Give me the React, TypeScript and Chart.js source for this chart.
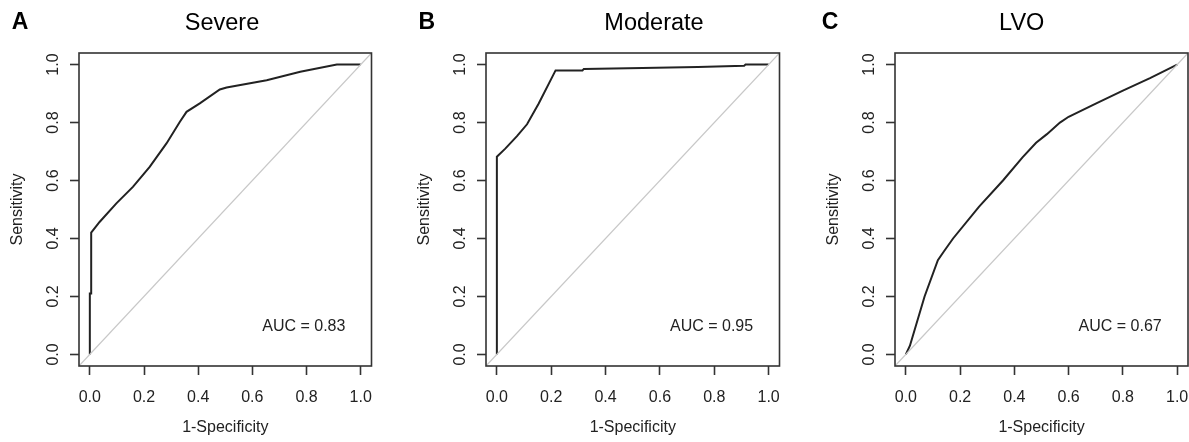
import React, { useEffect, useRef } from "react";
import { Chart, registerables } from "chart.js";

Chart.register(...registerables);

// ---------- data ----------
const TICK_VALUES = [0, 0.2, 0.4, 0.6, 0.8, 1.0];

const SEVERE_FPR = [0, 0, 0.005, 0.005, 0.036, 0.098, 0.159, 0.221, 0.283, 0.332, 0.357, 0.406, 0.48, 0.505, 0.653, 0.777, 0.912, 1];
const SEVERE_TPR = [0, 0.21, 0.21, 0.42, 0.457, 0.521, 0.578, 0.647, 0.728, 0.802, 0.837, 0.866, 0.914, 0.921, 0.946, 0.975, 1, 1];

const MODERATE_FPR = [0, 0, 0.031, 0.074, 0.111, 0.154, 0.216, 0.315, 0.32, 0.536, 0.74, 0.91, 0.915, 1];
const MODERATE_TPR = [0, 0.682, 0.71, 0.753, 0.794, 0.866, 0.98, 0.98, 0.985, 0.988, 0.992, 0.996, 1, 1];

const LVO_FPR = [0, 0.015, 0.069, 0.118, 0.14, 0.174, 0.27, 0.358, 0.43, 0.48, 0.52, 0.568, 0.6, 0.7, 0.8, 0.9, 1];
const LVO_TPR = [0, 0.03, 0.2, 0.325, 0.355, 0.4, 0.51, 0.6, 0.68, 0.73, 0.76, 0.8, 0.82, 0.865, 0.91, 0.953, 1];

const DIAG = [-0.04, 1.04];

const PANEL_LETTERS = ["A", "B", "C"];
const PANEL_TITLES = ["Severe", "Moderate", "LVO"];
const AUC_LABELS = ["AUC = 0.83", "AUC = 0.95", "AUC = 0.67"];
const AUC_POS = [0.79, 0.095];
const X_TITLE = "1-Specificity";
const Y_TITLE = "Sensitivity";

// ---------- layout ----------
const FONT = '"Liberation Sans", Arial, Helvetica, sans-serif';
const H = 442;
const LAYOUT = [
  { left: 0, width: 400, padRight: 28.5, letterX: 20, titleX: 222 },
  { left: 407, width: 400, padRight: 27.5, letterX: 19.7, titleX: 247 },
  { left: 816, width: 373, padRight: 1, letterX: 14, titleX: 205.7 },
];

const boxAndText = {
  id: "boxAndText",
  afterDraw(chart: any, _args: any, opts: any) {
    const { ctx, chartArea: a, scales } = chart;
    ctx.save();
    ctx.strokeStyle = "#333";
    ctx.lineWidth = 1.6;
    ctx.strokeRect(a.left, a.top, a.right - a.left, a.bottom - a.top);
    ctx.fillStyle = "#222";
    ctx.textAlign = "center";
    ctx.textBaseline = "middle";
    ctx.font = `16px ${FONT}`;
    ctx.fillText(opts.auc, scales.x.getPixelForValue(AUC_POS[0]), scales.y.getPixelForValue(AUC_POS[1]));
    ctx.fillStyle = "#000";
    ctx.font = `bold 23px ${FONT}`;
    ctx.fillText(opts.letter, opts.letterX, 22.5);
    ctx.font = `23.5px ${FONT}`;
    ctx.fillText(opts.title, opts.titleX, 23.5);
    ctx.restore();
  },
};

function Panel({ idx, fpr, tpr }: { idx: number; fpr: number[]; tpr: number[] }) {
  const ref = useRef<HTMLCanvasElement>(null);
  const L = LAYOUT[idx];
  useEffect(() => {
    if (!ref.current) return;
    const tickFont = { family: FONT, size: 16 };
    const chart = new Chart(ref.current, {
      type: "scatter",
      data: {
        datasets: [
          {
            data: DIAG.map((v) => ({ x: v, y: v })),
            showLine: true,
            borderColor: "#c8c8c8",
            borderWidth: 1.2,
            pointRadius: 0,
          },
          {
            data: fpr.map((x, i) => ({ x, y: tpr[i] })),
            showLine: true,
            borderColor: "#222",
            borderWidth: 2,
            pointRadius: 0,
            tension: 0,
          },
        ],
      },
      options: {
        responsive: false,
        animation: false,
        devicePixelRatio: 1,
        layout: { padding: { top: 53, bottom: 0, left: 0, right: L.padRight } },
        plugins: {
          legend: { display: false },
          tooltip: { enabled: false },
          boxAndText: {
            auc: AUC_LABELS[idx],
            letter: PANEL_LETTERS[idx],
            title: PANEL_TITLES[idx],
            letterX: L.letterX,
            titleX: L.titleX,
          },
        } as any,
        scales: {
          x: {
            type: "linear",
            min: -0.04,
            max: 1.04,
            afterBuildTicks: (s: any) => {
              s.ticks = TICK_VALUES.map((v) => ({ value: v }));
            },
            afterFit: (s: any) => {
              s.height = 76;
              s.paddingLeft = 0;
              s.paddingRight = 0;
            },
            grid: { display: true, drawOnChartArea: false, drawTicks: true, tickLength: 9, tickColor: "#333", tickWidth: 1.6 },
            border: { display: false },
            ticks: {
              autoSkip: false,
              padding: 12.5,
              color: "#222",
              font: tickFont,
              maxRotation: 0,
              callback: (v: any) => Number(v).toFixed(1),
            },
            title: { display: true, text: X_TITLE, color: "#222", font: tickFont, padding: { top: 0, bottom: 4.5 } },
          },
          y: {
            type: "linear",
            min: -0.04,
            max: 1.04,
            afterBuildTicks: (s: any) => {
              s.ticks = TICK_VALUES.map((v) => ({ value: v }));
            },
            afterFit: (s: any) => {
              s.width = 79;
              s.paddingTop = 0;
              s.paddingBottom = 0;
            },
            grid: { display: true, drawOnChartArea: false, drawTicks: true, tickLength: 9, tickColor: "#333", tickWidth: 1.6 },
            border: { display: false },
            ticks: {
              autoSkip: false,
              padding: 5,
              color: "#222",
              font: tickFont,
              minRotation: 90,
              maxRotation: 90,
              crossAlign: "center",
              callback: (v: any) => Number(v).toFixed(1),
            },
            title: { display: true, text: Y_TITLE, color: "#222", font: tickFont, padding: { top: 7.5, bottom: 0 } },
          },
        },
      } as any,
      plugins: [boxAndText],
    });
    return () => chart.destroy();
  }, []);
  return (
    <canvas
      ref={ref}
      width={L.width}
      height={H}
      style={{ position: "absolute", left: L.left, top: 0, width: L.width, height: H }}
    />
  );
}

export default function App() {
  return (
    <div style={{ position: "absolute", left: 0, top: 0, width: 1189, height: H, background: "#fff", overflow: "hidden" }}>
      <Panel idx={0} fpr={SEVERE_FPR} tpr={SEVERE_TPR} />
      <Panel idx={1} fpr={MODERATE_FPR} tpr={MODERATE_TPR} />
      <Panel idx={2} fpr={LVO_FPR} tpr={LVO_TPR} />
    </div>
  );
}
